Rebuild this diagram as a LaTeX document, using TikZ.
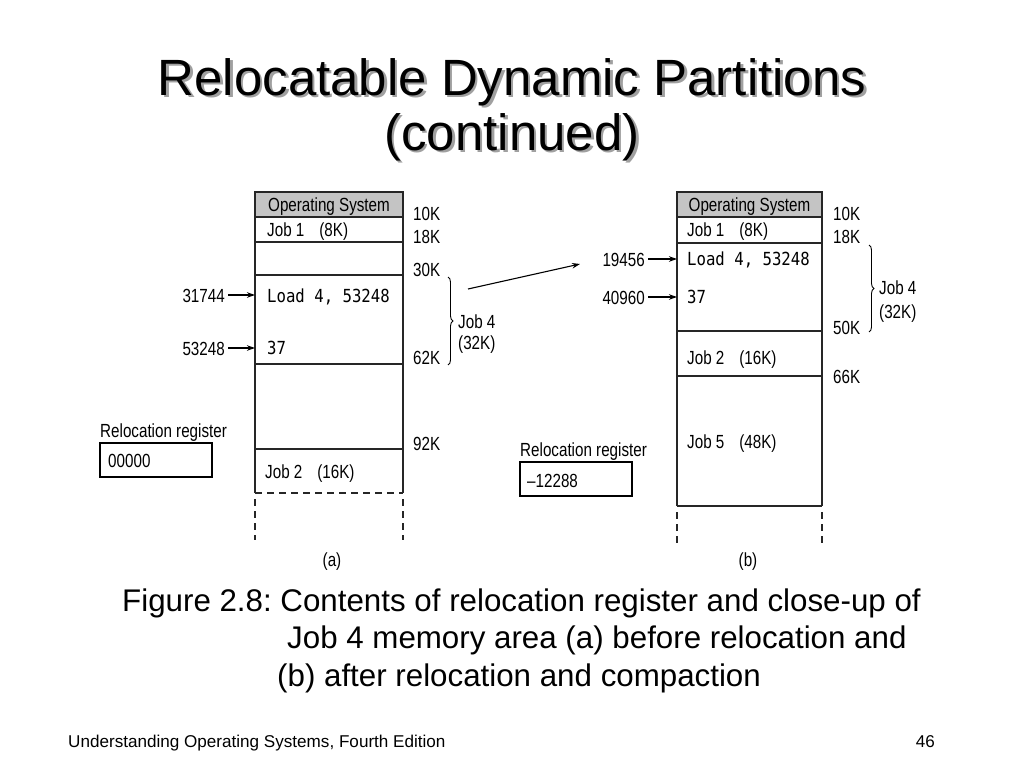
\documentclass[tikz,border=0pt]{standalone}
\usepackage{fontspec}
\setmainfont{Liberation Sans}
\newfontfamily\narrowfont[FakeStretch=0.8]{Liberation Sans}
\newfontfamily\codefont[FakeStretch=0.87]{DejaVu Sans Mono}
\usetikzlibrary{arrows.meta,decorations.pathreplacing}
\definecolor{osgray}{RGB}{196,196,196}
\definecolor{shadowgray}{RGB}{160,160,160}
\newcommand{\shadowtext}[1]{\rlap{\hspace{2.5pt}\raisebox{-2.5pt}{\color{shadowgray}#1}}#1}
\begin{document}
\frenchspacing
\begin{tikzpicture}[x=1pt,y=-1pt,
  box/.style={line width=1.4pt,draw=black!85},
  dashbox/.style={line width=1.4pt,draw=black!85,dash pattern=on 7pt off 5pt},
  lbl/.style={inner sep=0pt,anchor=base west,text height=13.5pt,text depth=0pt,font=\narrowfont\fontsize{19}{22}\selectfont},
  lblr/.style={lbl,anchor=base east},
  lblc/.style={lbl,anchor=base},
  code/.style={inner sep=0pt,anchor=base west,text height=13pt,text depth=0pt,font=\codefont\fontsize{18}{21}\selectfont},
  arr/.style={line width=1.1pt,-{Stealth[length=8pt,width=5.5pt]}},
  brc/.style={line width=0.9pt,decorate,decoration={brace,amplitude=5pt}},
  titletxt/.style={inner sep=0pt,anchor=base,font=\fontsize{51}{56}\selectfont},
  captxt/.style={inner sep=0pt,anchor=base west,font=\fontsize{31.3}{36}\selectfont},
  foottxt/.style={inner sep=0pt,font=\fontsize{17.1}{20}\selectfont}
]
\useasboundingbox[fill=white] (0,0) rectangle (1024,768);

% ---------- title ----------
\node[titletxt] (t1) at (512,95) {\shadowtext{Relocatable Dynamic Partitions}};
\node[titletxt] (t2) at (512,150) {\shadowtext{(continued)}};

% ---------- memory (a) ----------
\fill[osgray] (255,192) rectangle (403,217);
\draw[box] (255,493) -- (255,192) -- (403,192) -- (403,493);
\foreach \yy in {217,242,275,364,449} \draw[box] (255,\yy) -- (403,\yy);
\draw[dashbox] (255,493) -- (403,493);
\draw[dashbox] (255,499) -- (255,540);
\draw[dashbox] (403,499) -- (403,540);

\node[lblc] (aos) at (329,211) {Operating System};
\node[lbl] (aj1) at (267,236) {Job 1\hspace{15pt}(8K)};
\node[code] (aload) at (267,302) {Load 4, 53248};
\node[code] (a37) at (267,354) {37};
\node[lbl] (aj2) at (265,478) {Job 2\hspace{15pt}(16K)};

\node[lbl] (a10) at (413,220) {10K};
\node[lbl] (a18) at (413,243) {18K};
\node[lbl] (a30) at (413,276) {30K};
\node[lbl] (a62) at (413,364) {62K};
\node[lbl] (a92) at (413,450) {92K};

\coordinate (abt) at (448,277);
\coordinate (abb) at (448,365);
\draw[brc] (abt) -- (abb);
\node[lbl] (aj4) at (458,328) {Job 4};
\node[lbl] (aj4k) at (458,349) {(32K)};

\node[lblr] (a31744) at (225,302) {31744};
\node[lblr] (a53248) at (225,355) {53248};
\coordinate (ap1) at (255,295);
\coordinate (ap2) at (255,348);
\draw[arr] ([xshift=3pt]a31744.east |- ap1) -- (ap1);
\draw[arr] ([xshift=3pt]a53248.east |- ap2) -- (ap2);

\node[lbl] (arr) at (100,437) {Relocation register};
\draw[line width=1.4pt] (100,443) rectangle (212,477);
\node[lbl] (areg) at (108,467) {00000};
\node[lblc] (acap) at (332,566) {(a)};

% ---------- connecting arrow ----------
\coordinate (mfrom) at (468,289);
\coordinate (mto) at (580,264);
\draw[arr] (mfrom) -- (mto);

% ---------- memory (b) ----------
\fill[osgray] (677,192) rectangle (822,217);
\draw[box] (677,506) -- (677,192) -- (822,192) -- (822,506);
\foreach \yy in {217,243,331,376,506} \draw[box] (677,\yy) -- (822,\yy);
\draw[dashbox] (677,512) -- (677,543);
\draw[dashbox] (822,512) -- (822,543);

\node[lblc] (bos) at (749.5,211) {Operating System};
\node[lbl] (bj1) at (687,236) {Job 1\hspace{15pt}(8K)};
\node[code] (bload) at (687,265) {Load 4, 53248};
\node[code] (b37) at (687,303) {37};
\node[lbl] (bj2) at (687,364) {Job 2\hspace{15pt}(16K)};
\node[lbl] (bj5) at (687,448) {Job 5\hspace{15pt}(48K)};

\node[lbl] (b10) at (833,220) {10K};
\node[lbl] (b18) at (833,243) {18K};
\node[lbl] (b50) at (833,334) {50K};
\node[lbl] (b66) at (833,383) {66K};

\coordinate (bbt) at (869,245);
\coordinate (bbb) at (869,332);
\draw[brc] (bbt) -- (bbb);
\node[lbl] (bj4) at (879,294) {Job 4};
\node[lbl] (bj4k) at (879,318) {(32K)};

\node[lblr] (b19456) at (645,266) {19456};
\node[lblr] (b40960) at (645,304) {40960};
\coordinate (bp1) at (677,259);
\coordinate (bp2) at (677,297);
\draw[arr] ([xshift=3pt]b19456.east |- bp1) -- (bp1);
\draw[arr] ([xshift=3pt]b40960.east |- bp2) -- (bp2);

\node[lbl] (brr) at (520,456) {Relocation register};
\draw[line width=1.4pt] (520,462) rectangle (632,496);
\node[lbl] (breg) at (527,487) {–12288};
\node[lblc] (bcap) at (748,566) {(b)};

% ---------- caption ----------
\node[captxt] (c1) at (122,611) {Figure 2.8: Contents of relocation register and close-up of};
\node[captxt] (c2) at (287,648) {Job 4 memory area (a) before relocation and};
\node[captxt] (c3) at (277,686) {(b) after relocation and compaction};

% ---------- footer ----------
\node[foottxt,anchor=base west] (f1) at (68,747) {Understanding Operating Systems, Fourth Edition};
\node[foottxt,anchor=base east] (f2) at (935,747) {46};
\end{tikzpicture}
\end{document}
